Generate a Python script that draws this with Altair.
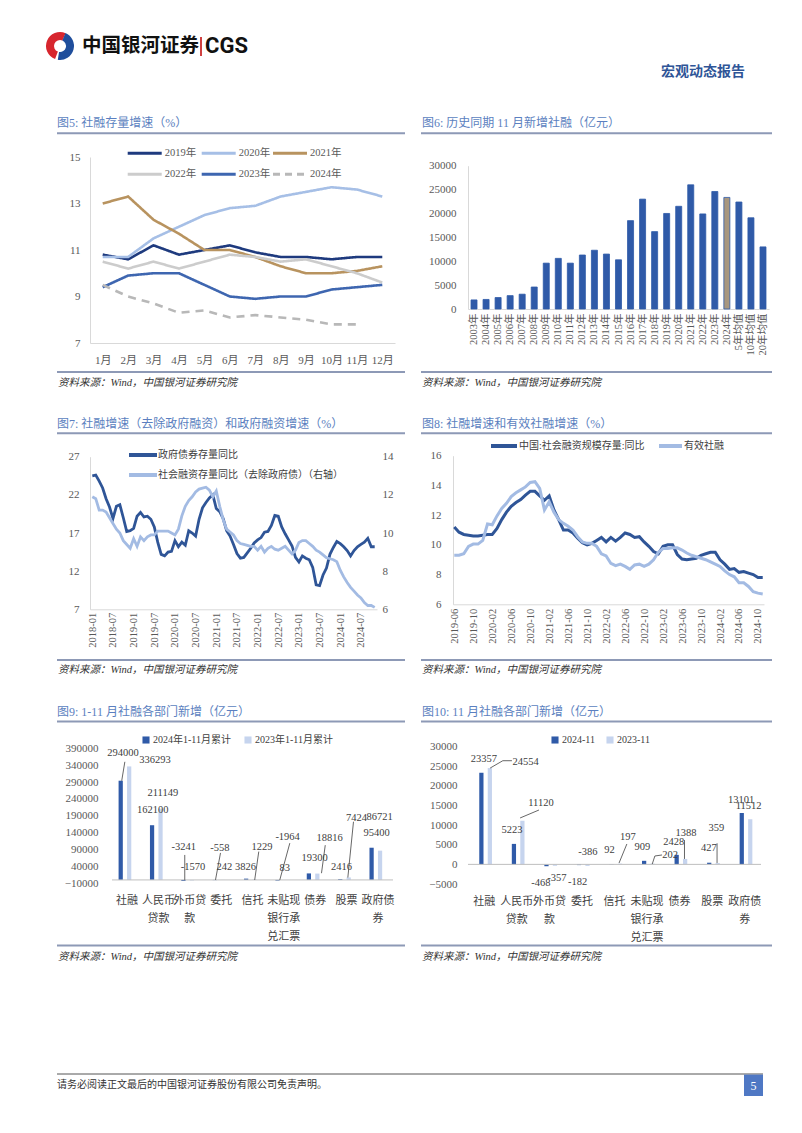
import altair as alt
import pandas as pd

SERIF = "Liberation Serif, Noto Sans CJK SC"
SANS = "Noto Sans CJK SC"
AXC = "#595959"
GRID = "#d9d9d9"
TITLE_C = "#5b7fc0"
LINE_C = "#8d99b6"
SRC_C = "#333333"
DARK = "#2f5597"
LIGHT = "#a3bbe3"
DARK9 = "#2f5aa8"
LIGHT9 = "#c6d4ee"

# ---------------- data ----------------
months5 = ["1月", "2月", "3月", "4月", "5月", "6月", "7月", "8月", "9月", "10月", "11月", "12月"]
years5 = ["2019年", "2020年", "2021年", "2022年", "2023年", "2024年"]
y2019 = [10.8, 10.6, 11.2, 10.8, 11.0, 11.2, 10.9, 10.7, 10.7, 10.6, 10.7, 10.7]
y2020 = [10.7, 10.7, 11.5, 12.0, 12.5, 12.8, 12.9, 13.3, 13.5, 13.7, 13.6, 13.3]
y2021 = [13.0, 13.3, 12.3, 11.7, 11.0, 11.0, 10.7, 10.3, 10.0, 10.0, 10.1, 10.3]
y2022 = [10.5, 10.2, 10.5, 10.2, 10.5, 10.8, 10.7, 10.5, 10.6, 10.3, 10.0, 9.6]
y2023 = [9.4, 9.9, 10.0, 10.0, 9.5, 9.0, 8.9, 9.0, 9.0, 9.3, 9.4, 9.5]
y2024 = [9.5, 9.0, 8.7, 8.3, 8.4, 8.1, 8.2, 8.1, 8.0, 7.8, 7.8]
colors5 = ["#1e3a7e", "#a6bfe6", "#b8935f", "#cccccc", "#3e66b0", "#b8b8b8"]

cats6 = ["2003年", "2004年", "2005年", "2006年", "2007年", "2008年", "2009年", "2010年",
         "2011年", "2012年", "2013年", "2014年", "2015年", "2016年", "2017年", "2018年",
         "2019年", "2020年", "2021年", "2022年", "2023年", "2024年", "5年均值", "10年均值", "20年均值"]
vals6 = [1900, 2000, 2400, 2800, 3100, 4600, 9600, 10600, 9600, 11300, 12300, 11500, 10300,
         18500, 23000, 16200, 20000, 21500, 26000, 19900, 24600, 23357, 22400, 19100, 13000]

months7 = [f"{y}-{m:02d}" for y in range(2018, 2025) for m in range(1, 13)][:83]
ticks7 = ["2018-01", "2018-07", "2019-01", "2019-07", "2020-01", "2020-07", "2021-01", "2021-07",
          "2022-01", "2022-07", "2023-01", "2023-07", "2024-01", "2024-07"]
names7 = ["政府债券存量同比", "社会融资存量同比（去除政府债）（右轴）"]
gov7 = [24.5, 24.6, 23.8, 22.9, 21.5, 20.4, 18.9, 20.5, 20.7, 19.0, 17.2, 17.3,
        17.6, 19.2, 19.7, 19.1, 19.2, 18.8, 17.8, 15.8, 14.2, 14.0, 14.5, 14.6,
        16.0, 15.2, 15.8, 15.4, 17.3, 17.0, 16.6, 18.8, 20.3, 21.0, 21.6, 22.0,
        20.2, 19.8, 18.9, 17.3, 16.6, 15.5, 14.3, 13.7, 13.8, 14.4, 15.0, 15.7,
        16.1, 16.4, 17.1, 17.2, 18.0, 19.3, 19.2, 17.8, 16.9, 16.1, 15.3, 13.8,
        13.2, 14.0, 13.7, 13.5, 12.5, 10.2, 10.1, 11.5, 12.4, 14.2, 15.1, 15.9,
        15.6, 15.2, 14.7, 14.0, 14.7, 15.2, 15.5, 15.8, 16.3, 15.2, 15.2]
tsf7 = [11.9, 11.8, 11.2, 11.2, 11.1, 10.8, 10.5, 10.2, 10.0, 9.6, 9.4, 9.2,
        9.7, 9.3, 9.8, 9.6, 9.8, 9.9, 9.9, 10.1, 10.1, 10.1, 10.1, 10.0,
        9.9, 10.2, 10.9, 11.4, 11.7, 11.9, 12.15, 12.3, 12.35, 12.4, 12.25, 11.9,
        12.2, 11.4, 10.7, 10.2, 10.05, 9.9, 9.6, 9.45, 9.4, 9.35, 9.3, 9.3,
        9.1, 9.3, 9.0, 9.2, 9.3, 9.15, 9.1, 9.2, 9.3, 9.1, 8.9, 9.1,
        9.5, 9.6, 9.6, 9.45, 9.3, 9.1, 9.0, 8.85, 8.7, 8.65, 8.6, 8.5,
        8.05, 7.7, 7.4, 7.15, 6.95, 6.75, 6.6, 6.35, 6.2, 6.2, 6.1]

months8 = [f"{y}-{m:02d}" for y in range(2019, 2025) for m in range(1, 13)][5:71]
ticks8 = ["2019-06", "2019-10", "2020-02", "2020-06", "2020-10", "2021-02", "2021-06", "2021-10",
          "2022-02", "2022-06", "2022-10", "2023-02", "2023-06", "2023-10", "2024-02", "2024-06", "2024-10"]
names8 = ["中国:社会融资规模存量:同比", "有效社融"]
tsf8 = [11.2, 10.85, 10.7, 10.65, 10.6, 10.6, 10.65, 10.7, 10.7, 11.1, 11.7, 12.2,
        12.6, 12.85, 13.05, 13.35, 13.6, 13.6, 13.3, 13.0, 13.3, 12.35, 11.7, 11.0,
        11.0, 10.8, 10.45, 10.15, 10.0, 10.1, 10.3, 10.5, 10.2, 10.5, 10.25, 10.5,
        10.8, 10.7, 10.5, 10.55, 10.2, 9.9, 9.55, 9.4, 9.9, 10.0, 10.0, 9.35,
        9.05, 9.0, 9.05, 9.1, 9.3, 9.4, 9.5, 9.5, 9.0, 8.7, 8.35, 8.4,
        8.15, 8.2, 8.1, 8.0, 7.8, 7.8]
eff8 = [9.3, 9.3, 9.4, 9.9, 10.05, 10.05, 10.3, 11.4, 11.35, 11.95, 12.45, 12.8,
        13.25, 13.5, 13.7, 13.9, 14.2, 14.25, 13.8, 12.35, 12.9, 12.2, 11.7, 11.45,
        11.25, 11.0, 10.55, 10.2, 10.1, 10.1, 9.9, 9.4, 9.25, 8.75, 8.6, 8.7,
        8.55, 8.35, 8.65, 8.7, 8.55, 8.7, 9.0, 9.5, 9.75, 9.75, 9.8, 9.8,
        9.65, 9.45, 9.3, 9.2, 9.1, 9.0, 8.85, 8.7, 8.55, 8.25, 8.0, 7.85,
        7.45, 7.45, 7.2, 6.85, 6.75, 6.7]

cats9 = ["社融", "人民币贷款", "外币贷款", "委托", "信托", "未贴现银行承兑汇票", "债券", "股票", "政府债券"]
names9 = ["2024年1-11月累计", "2023年1-11月累计"]
v9_2024 = [294000, 162100, -3241, -558, 3826, -1964, 19300, 2416, 95400]
v9_2023 = [336293, 211149, -1570, 242, 1229, 83, 18816, 7424, 86721]
# label anchors (x in category-index units, y in value units)
lab9_x = [-0.13, 0.82, 1.81, 2.96, 3.78, 5.12, 5.98, 6.84, 7.96,
          0.89, 1.14, 2.10, 3.10, 4.30, 5.03, 6.46, 7.32, 8.05]
lab9_y = [377000, 207800, 97500, 94600, 38300, 127200, 65000, 38300, 139000,
          355300, 257600, 38300, 38300, 97500, 35500, 124000, 184000, 187000]
lead9_x1 = [-0.17, 1.84, 2.82, 4.07, 4.87, 6.20, 7.04]
lead9_y1 = [294000, 0, 0, 0, 0, 20000, 7000]
lead9_x2 = [-0.07, 1.84, 2.98, 4.20, 5.19, 6.32, 7.22]
lead9_y2 = [350000, 74000, 80000, 84000, 109000, 103000, 172500]

names10 = ["2024-11", "2023-11"]
v10_2024 = [23357, 5223, -468, -182, 92, 909, 2428, 427, 13101]
v10_2023 = [24554, 11120, -357, -386, 197, 202, 1388, 359, 11512]
lab10_x = [-0.01, 0.85, 1.74, 2.87, 3.85, 4.86, 5.82, 6.90, 7.89,
           1.27, 1.74, 2.23, 3.18, 4.41, 5.71, 6.20, 7.13, 8.12]
lab10_y = [26800, 8770, -4830, -4410, 3670, 4510, 5780, 4100, 16410,
           26180, 15570, -3550, 3240, 7060, 2400, 7920, 9200, 14880]
lead10_x1 = [0.18, 0.57, 1.10, 4.14, 5.16, 5.24, 6.15, 7.15]
lead10_y1 = [24554, 26430, 11830, 350, 100, 2140, 1388, 359]
lead10_x2 = [0.57, 0.85, 1.68, 4.38, 5.24, 5.46, 6.15, 7.15]
lead10_y2 = [26430, 26430, 13860, 5200, 2140, 2400, 6200, 5380]

# ---------------- helpers ----------------
ONE = alt.Data(values=[{"k": 1}])


def T(x, y, text, size=12, color=SRC_C, font=SERIF, weight="normal", style="normal", align="left"):
    return alt.Chart(ONE).mark_text(fontSize=size, color=color, font=font, fontWeight=weight,
                                    fontStyle=style, align=align, baseline="middle").encode(
        x=alt.value(x), y=alt.value(y), text=alt.value(text))


def R(x1, x2, y1, y2, color, w, dash=None):
    kw = dict(color=color, strokeWidth=w)
    if dash:
        kw["strokeDash"] = dash
    return alt.Chart(ONE).mark_rule(**kw).encode(
        x=alt.value(x1), x2=alt.value(x2), y=alt.value(y1), y2=alt.value(y2))


def RECT(x1, x2, y1, y2, color):
    return alt.Chart(ONE).mark_rect(color=color).encode(
        x=alt.value(x1), x2=alt.value(x2), y=alt.value(y1), y2=alt.value(y2))


def spacer(w, h):
    return alt.Chart(ONE).mark_point(opacity=0, size=1).encode(
        x=alt.value(w / 2), y=alt.value(h / 2)).properties(width=w, height=h)


def band(h, layers):
    return alt.layer(*layers).properties(width=786, height=h)


SRC = "资料来源：Wind，中国银河证券研究院"


def src_row(y_line, y_text):
    return [R(49, 397, y_line, y_line, LINE_C, 2), R(413, 764, y_line, y_line, LINE_C, 2),
            T(50, y_text, SRC, size=10.5, style="italic"), T(414, y_text, SRC, size=10.5, style="italic")]


def title_row(y_text, y_line, t1, t2):
    return [T(49, y_text, t1, size=12, color=TITLE_C), T(414, y_text, t2, size=12, color=TITLE_C),
            R(49, 397, y_line, y_line, LINE_C, 2), R(413, 764, y_line, y_line, LINE_C, 2)]


def ax(**kw):
    base = dict(title=None, labelFont=SERIF, labelColor=AXC, ticks=False, grid=False, domainColor=GRID)
    base.update(kw)
    return alt.Axis(**base)


def row(*charts):
    return alt.hconcat(*charts, spacing=0, bounds="flush").resolve_scale(
        color="independent", strokeDash="independent")


# ---------------- header band (page y 8..140) ----------------
header = band(132, [
    alt.Chart(ONE).mark_arc(radius=14, radius2=6, theta=3.5, theta2=6.7, color="#d7262e").encode(
        x=alt.value(52), y=alt.value(38)),
    alt.Chart(ONE).mark_arc(radius=14, radius2=6, theta=0.4, theta2=3.3, color="#1f4e9c").encode(
        x=alt.value(52), y=alt.value(38)),
    T(74, 38, "中国银河证券", size=19.5, color="#111111", font=SANS, weight="bold"),
    R(193, 193, 29, 48, "#c00000", 1.5),
    T(197, 38, "CGS", size=22, color="#111111", font="Roboto", weight="bold"),
    T(737, 64, "宏观动态报告", size=14, color=DARK, font=SANS, weight="bold", align="right"),
] + title_row(115.3, 125.3, "图5: 社融存量增速（%）", "图6: 历史同期 11 月新增社融（亿元）"))

# ---------------- fig5 (plot top at page 140) ----------------
rows5 = []
for yr, vals in zip(years5, [y2019, y2020, y2021, y2022, y2023, y2024]):
    for m, v in zip(months5, vals):
        rows5.append({"month": m, "year": yr, "value": v})
df5 = pd.DataFrame(rows5)
line5 = alt.Chart(df5).mark_line(strokeWidth=2.6).encode(
    x=alt.X("month:N", sort=months5, scale=alt.Scale(type="point", padding=0.5),
            axis=ax(labelAngle=0, labelFontSize=11, labelPadding=11)),
    y=alt.Y("value:Q", scale=alt.Scale(domain=[7, 15], range=[203, 17], nice=False, zero=False),
            axis=ax(values=[7, 9, 11, 13, 15], labelFontSize=11, labelPadding=10)),
    color=alt.Color("year:N", scale=alt.Scale(domain=years5, range=colors5), legend=None),
    strokeDash=alt.StrokeDash("year:N", scale=alt.Scale(domain=years5, range=[[1, 0]] * 5 + [[8, 6]]), legend=None),
)
leg5 = []
lx5 = [37.7, 111.7, 183]
ly5 = [13.3, 34.3]
for i, yr in enumerate(years5):
    x0 = lx5[i % 3]
    y0 = ly5[i // 3]
    leg5 += [R(x0, x0 + 34, y0, y0, colors5[i], 3, [7, 5] if i == 5 else None),
             T(x0 + 37, y0, yr, size=10.5, color=AXC)]
fig5 = alt.layer(line5, *leg5).properties(width=305, height=203)

# ---------------- fig6 ----------------
df6 = pd.DataFrame({"label": cats6, "value": vals6})
fig6 = alt.Chart(df6).mark_bar(stroke="#2f5aa8", strokeWidth=0.8).encode(
    x=alt.X("label:N", sort=cats6, scale=alt.Scale(paddingInner=0.5, paddingOuter=0.25),
            axis=ax(labelAngle=-90, labelFontSize=10.5, labelPadding=4)),
    y=alt.Y("value:Q", scale=alt.Scale(domain=[0, 30000], range=[169, 25.7], nice=False),
            axis=ax(values=list(range(0, 30001, 5000)), format="d", labelFontSize=11, labelPadding=12)),
    color=alt.condition(alt.datum.label == "2024年", alt.value("#a8977f"), alt.value("#2f5aa8")),
).properties(width=301, height=169)

row1 = row(spacer(82, 230), fig5, spacer(73, 230), fig6)

# band2: page y 370..437
band2 = band(67, src_row(2, 12.5) + title_row(54, 63.3, "图7: 社融增速（去除政府融资）和政府融资增速（%）",
                                              "图8: 社融增速和有效社融增速（%）"))

# ---------------- fig7 (plot top at page 437) ----------------
df7 = pd.DataFrame({"m": months7 * 2, "series": [names7[0]] * len(months7) + [names7[1]] * len(months7),
                    "v": gov7 + tsf7})
X7 = alt.X("m:O", sort=months7, scale=alt.Scale(type="point", padding=0.67),
           axis=ax(values=ticks7, labelAngle=-90, labelFontSize=10.5, labelPadding=3))
C7 = alt.Color("series:N", scale=alt.Scale(domain=names7, range=[DARK, LIGHT]), legend=None)
left7 = alt.Chart(df7).transform_filter(alt.datum.series == names7[0]).mark_line(strokeWidth=2.8).encode(
    x=X7, y=alt.Y("v:Q", scale=alt.Scale(domain=[7, 27], range=[172.3, 19.7], nice=False, zero=False),
                  axis=ax(values=[7, 12, 17, 22, 27], labelFontSize=11, labelPadding=11)), color=C7)
right7 = alt.Chart(df7).transform_filter(alt.datum.series == names7[1]).mark_line(strokeWidth=2.8).encode(
    x=X7, y=alt.Y("v:Q", scale=alt.Scale(domain=[6, 14], range=[172.3, 19.7], nice=False, zero=False),
                  axis=ax(values=[6, 8, 10, 12, 14], orient="right", domain=False,
                          labelFontSize=11, labelPadding=5)), color=C7)
leg7 = [R(39, 67, 18, 18, DARK, 4), T(68, 18, names7[0], size=10, color="#404040"),
        R(39, 67, 38, 38, LIGHT, 4), T(68, 38, names7[1], size=10, color="#404040")]
fig7 = alt.layer(left7, right7, *leg7).resolve_scale(y="independent").properties(width=287, height=172.3)

# ---------------- fig8 ----------------
df8 = pd.DataFrame({"m": months8 * 2, "series": [names8[0]] * len(months8) + [names8[1]] * len(months8),
                    "v": tsf8 + eff8})
line8 = alt.Chart(df8).mark_line(strokeWidth=3).encode(
    x=alt.X("m:O", sort=months8, scale=alt.Scale(type="point", padding=0.27),
            axis=ax(values=ticks8, labelAngle=-90, labelFontSize=10.5, labelPadding=4)),
    y=alt.Y("v:Q", scale=alt.Scale(domain=[6, 16], range=[167.3, 18.7], nice=False, zero=False),
            axis=ax(values=[6, 8, 10, 12, 14, 16], labelFontSize=11, labelPadding=12)),
    color=alt.Color("series:N", scale=alt.Scale(domain=names8, range=[DARK, LIGHT]), legend=None),
)
leg8 = [R(38, 64, 9, 9, DARK, 4), T(66, 9, names8[0], size=10, color="#404040"),
        R(206, 229, 9, 9, LIGHT, 4), T(231, 9, names8[1], size=10, color="#404040")]
fig8 = alt.layer(line8, *leg8).properties(width=311, height=167.3)

row2 = row(spacer(82, 221), fig7, spacer(76, 221), fig8)

# band3: page y 658..728
band3 = band(70, src_row(2, 11.5) + title_row(54, 63.5, "图9: 1-11 月社融各部门新增（亿元）",
                                             "图10: 11 月社融各部门新增（亿元）"))


# ---------------- fig9 / fig10 (plot top at page 728) ----------------
def grouped(v24, v23, names, dom, rng, ticks, lpad, pin, pout, idx_dom, lab_x, lab_y, lx1, ly1, lx2, ly2,
            legx, colpad, w, h):
    df = pd.DataFrame({"cat": cats9 * 2, "series": [names[0]] * 9 + [names[1]] * 9, "value": v24 + v23})
    ysc = alt.Scale(domain=dom, range=rng, nice=False, zero=False)
    yax = ax(values=ticks, domain=False, format="d", labelFontSize=11, labelPadding=lpad)
    bars = alt.Chart(df).mark_bar().encode(
        x=alt.X("cat:N", sort=cats9, scale=alt.Scale(paddingInner=pin, paddingOuter=pout),
                axis=ax(labelAngle=0, domain=False, labelFontSize=11, labelPadding=11, labelLineHeight=18,
                        labelColor="#404040",
                        labelExpr="[substring(datum.label,0,3), substring(datum.label,3,6), substring(datum.label,6,9)]")),
        xOffset=alt.XOffset("series:N", sort=names, scale=alt.Scale(paddingInner=0, paddingOuter=0)),
        y=alt.Y("value:Q", scale=ysc, axis=yax),
        color=alt.Color("series:N", scale=alt.Scale(domain=names, range=[DARK9, LIGHT9]),
                        legend=alt.Legend(title=None, orient="none", legendX=legx, legendY=7,
                                          direction="horizontal", symbolType="square", symbolSize=50,
                                          labelFont=SERIF, labelFontSize=10, labelColor="#404040",
                                          columnPadding=colpad, labelOffset=2)),
    )
    zero = alt.Chart(ONE).mark_rule(color="#bfbfbf", strokeWidth=1).encode(
        y=alt.Y(datum=0, scale=ysc, axis=yax))
    ann = pd.DataFrame({"ix": lab_x, "iy": lab_y, "txt": [str(v) for v in v24 + v23]})
    labels = alt.Chart(ann).mark_text(font=SERIF, fontSize=10.5, color="#404040").encode(
        x=alt.X("ix:Q", scale=alt.Scale(domain=idx_dom, nice=False, zero=False), axis=None),
        y=alt.Y("iy:Q", scale=ysc, axis=yax), text="txt:N")
    led = pd.DataFrame({"x1": lx1, "y1": ly1, "x2": lx2, "y2": ly2})
    leaders = alt.Chart(led).mark_rule(color="#404040", strokeWidth=0.8).encode(
        x=alt.X("x1:Q", scale=alt.Scale(domain=idx_dom, nice=False, zero=False), axis=None),
        x2="x2:Q", y=alt.Y("y1:Q", scale=ysc, axis=yax), y2="y2:Q")
    return alt.layer(bars, zero, leaders, labels).resolve_scale(x="independent").properties(width=w, height=h)


fig9 = grouped(v9_2024, v9_2023, names9, [-10000, 390000], [155.3, 20.3], list(range(-10000, 390001, 50000)),
               14, 0.46, 0.21, [-0.48, 8.48], lab9_x, lab9_y, lead9_x1, lead9_y1, lead9_x2, lead9_y2,
               29, 12, 281, 155.3)
fig10 = grouped(v10_2024, v10_2023, names10, [-5000, 30000], [156, 18.7], list(range(-5000, 30001, 5000)),
                11, 0.43, 0.216, [-0.5, 8.5], lab10_x, lab10_y, lead10_x1, lead10_y1, lead10_x2, lead10_y2,
                82, 10, 293, 156)

row3 = row(spacer(104, 215), fig9, spacer(75, 215), fig10)

# footer: page y 943..1103
footer = band(160, src_row(2.5, 14) + [
    R(49, 755, 131, 131, "#555555", 1),
    T(49, 142, "请务必阅读正文最后的中国银河证券股份有限公司免责声明。", size=10, color="#333333"),
    RECT(736, 755, 131.6, 153, "#4f78c4"),
    T(745.5, 142.5, "5", size=12, color="white", align="center"),
])

chart = alt.vconcat(header, row1, band2, row2, band3, row3, footer, spacing=0, bounds="full",
                    padding=0).resolve_scale(color="independent", strokeDash="independent").configure_view(
    stroke=None).configure_scale(offsetBandPaddingInner=0, offsetBandPaddingOuter=0)

chart.save("out.html", embed_options={"renderer": "svg", "actions": False})
